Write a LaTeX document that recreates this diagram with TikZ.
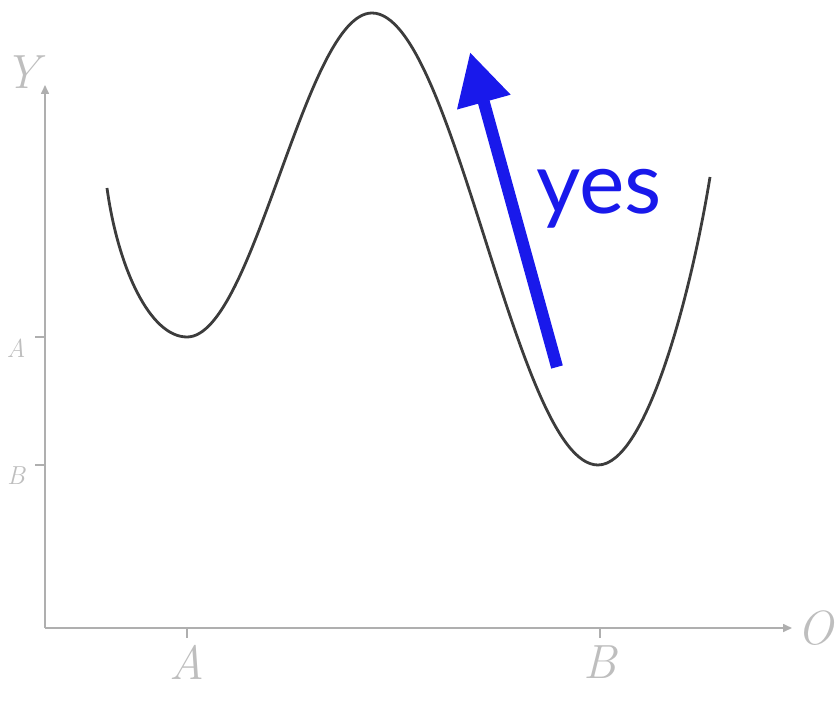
\documentclass[tikz,border=0pt]{standalone}
\usepackage{fontspec}
\newfontfamily\yesfont{Lato}
\usetikzlibrary{arrows.meta}
\definecolor{axisgray}{RGB}{175,175,175}
\definecolor{labelgray}{RGB}{190,190,190}
\definecolor{curvegray}{RGB}{60,60,60}
\definecolor{arrowblue}{RGB}{25,25,235}
\tikzset{
  axis/.style={draw=axisgray, line width=1.6pt, -{Triangle[length=9pt,width=8pt]}},
  tickmark/.style={draw=axisgray, line width=1.6pt},
  axlabel/.style={text=labelgray, font=\fontsize{48}{48}\selectfont\itshape, inner sep=0pt},
  smalllabel/.style={text=labelgray, font=\fontsize{26}{26}\selectfont\itshape, inner sep=0pt},
  curve/.style={draw=curvegray, line width=2.8pt},
  bluearrow/.style={draw=arrowblue, line width=12pt, -{Triangle[length=52pt,width=52pt]}},
}
\begin{document}
\begin{tikzpicture}[x=1pt,y=-1pt]
\useasboundingbox (0,0) rectangle (840,708);
% axes
\coordinate (orig) at (45,628);
\coordinate (ytop) at (45,85);
\coordinate (xend) at (792,628);
\draw[axis] (orig) -- (ytop);
\draw[axis] (orig) -- (xend);
% ticks
\draw[tickmark] (187,628) -- (187,638);
\draw[tickmark] (600,628) -- (600,638);
\draw[tickmark] (35,337) -- (45,337);
\draw[tickmark] (35,465) -- (45,465);
% labels
\node[axlabel] (lA) at (187,662) {A};
\node[axlabel] (lB) at (600,662) {B};
\node[axlabel] (lO) at (815,628) {O};
\node[axlabel] (lY) at (22,72) {Y};
\node[smalllabel] (la) at (16,348) {A};
\node[smalllabel] (lb) at (16,476) {B};
% curve
\coordinate (c0) at (107,188);
\coordinate (m1) at (187,337);
\coordinate (mx) at (372,13);
\coordinate (m2) at (598,465);
\coordinate (c1) at (710,177);
\draw[curve] (c0) .. controls (118,268) and (150,337) .. (m1)
  .. controls (254,337) and (305,13) .. (mx)
  .. controls (454,13) and (516,465) .. (m2)
  .. controls (645,465) and (690,300) .. (c1);
% blue arrow
\coordinate (bstart) at (557,367);
\coordinate (btip) at (470,52);
\draw[bluearrow] (bstart) -- (btip);
\node[text=arrowblue, font=\yesfont\fontsize{86}{86}\selectfont, inner sep=0pt, anchor=base west] (yes) at (536,214) {yes};
\end{tikzpicture}
\end{document}
